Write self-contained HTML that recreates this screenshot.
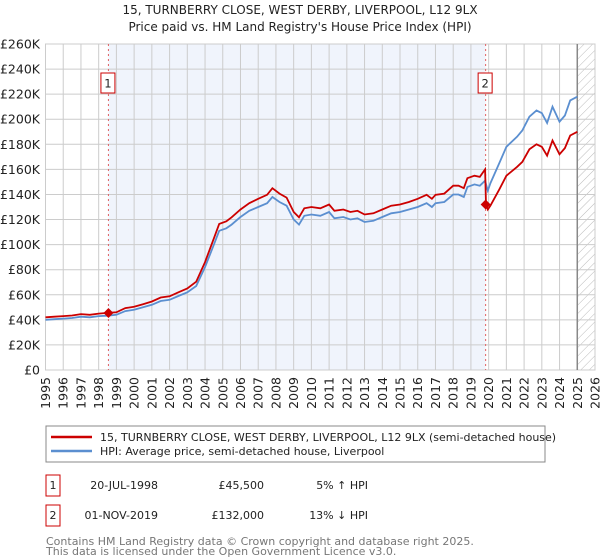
<!DOCTYPE html>
<html><head><meta charset="utf-8"><style>
body{margin:0;background:#fff;font-family:"DejaVu Sans","Liberation Sans",sans-serif;}
svg{display:block}
</style></head><body>
<svg width="600" height="560" xmlns="http://www.w3.org/2000/svg" font-family="DejaVu Sans, Liberation Sans, sans-serif">
<defs><pattern id="hatch" width="6" height="6" patternUnits="userSpaceOnUse" patternTransform="rotate(45)"><line x1="0" y1="0" x2="0" y2="6" stroke="#bbb" stroke-width="1"/></pattern></defs>
<text x="300" y="14" text-anchor="middle" font-size="12" fill="#222">15, TURNBERRY CLOSE, WEST DERBY, LIVERPOOL, L12 9LX</text>
<text x="300" y="31" text-anchor="middle" font-size="12" fill="#222">Price paid vs. HM Land Registry's House Price Index (HPI)</text>
<g id="plot"></g>
<rect x="46" y="426" width="499" height="36" fill="#fff" stroke="#888"/>
<line x1="51" y1="437" x2="92" y2="437" stroke="#cc0000" stroke-width="2.5"/>
<text x="100" y="441" font-size="11" fill="#222">15, TURNBERRY CLOSE, WEST DERBY, LIVERPOOL, L12 9LX (semi-detached house)</text>
<line x1="51" y1="451" x2="92" y2="451" stroke="#5b8fd0" stroke-width="2.5"/>
<text x="100" y="455" font-size="11" fill="#222">HPI: Average price, semi-detached house, Liverpool</text>
<g font-size="11" fill="#222">
<rect x="46" y="475" width="14" height="21" fill="#fff" stroke="#cc0000"/>
<text x="53" y="489" text-anchor="middle">1</text>
<text x="158" y="489" text-anchor="end">20-JUL-1998</text>
<text x="264" y="489" text-anchor="end">£45,500</text>
<text x="368" y="489" text-anchor="end">5% ↑ HPI</text></g>
<g font-size="11" fill="#222">
<rect x="46" y="505" width="14" height="21" fill="#fff" stroke="#cc0000"/>
<text x="53" y="519" text-anchor="middle">2</text>
<text x="158" y="519" text-anchor="end">01-NOV-2019</text>
<text x="264" y="519" text-anchor="end">£132,000</text>
<text x="368" y="519" text-anchor="end">13% ↓ HPI</text></g>
<text x="46" y="545" font-size="11" fill="#777">Contains HM Land Registry data © Crown copyright and database right 2025.</text>
<text x="46" y="555" font-size="11" fill="#777">This data is licensed under the Open Government Licence v3.0.</text>
</svg>
<script>
const hpiYears=[1995,1995.5,1996,1996.5,1997,1997.5,1998,1998.5,1999,1999.5,2000,2000.5,2001,2001.5,2002,2002.5,2003,2003.5,2004,2004.5,2004.8,2005.2,2005.5,2006,2006.5,2007,2007.5,2007.8,2008.2,2008.6,2009,2009.3,2009.6,2010,2010.5,2011,2011.3,2011.8,2012.2,2012.6,2013,2013.5,2014,2014.5,2015,2015.5,2016,2016.5,2016.8,2017,2017.5,2018,2018.3,2018.6,2018.8,2019.2,2019.5,2019.8,2019.95,2020.1,2020.6,2021,2021.6,2021.9,2022.3,2022.7,2023,2023.3,2023.6,2024,2024.3,2024.6,2025];
const hpiValues=[40,40.5,41,41.5,42.5,42,43,43.3,44,47,48,50,52,55,56,59,62,67,82,100,111,113,116,122,127,130,133,138,134,131,120,116,123,124,123,126,121,122,120,121,118,119,122,125,126,128,130,133,130,133,134,140,140,138,146,148,147,151,143,149,165,178,186,191,202,207,205,197,210,198,203,215,218];
const propYears=[1995,1995.5,1996,1996.5,1997,1997.5,1998,1998.5,1999,1999.5,2000,2000.5,2001,2001.5,2002,2002.5,2003,2003.5,2004,2004.5,2004.8,2005.2,2005.5,2006,2006.5,2007,2007.5,2007.8,2008.2,2008.6,2009,2009.3,2009.6,2010,2010.5,2011,2011.3,2011.8,2012.2,2012.6,2013,2013.5,2014,2014.5,2015,2015.5,2016,2016.5,2016.8,2017,2017.5,2018,2018.3,2018.6,2018.8,2019.2,2019.5,2019.8,2019.85,2019.95,2020.1,2020.6,2021,2021.6,2021.9,2022.3,2022.7,2023,2023.3,2023.6,2024,2024.3,2024.6,2025];
const propValues=[42,42.5,43,43.5,44.6,44,45,45.5,46,49.4,50.4,52.5,54.6,57.8,58.8,62,65,70.4,86,105,116.5,118.6,121.8,128,133,136.5,139.7,145,140.7,137.5,126,121.8,129,130,129,132,127,128,126,127,124,125,128,131,132,134,136.5,139.7,136.5,139.7,140.7,147,147,145,153,155,154,160,132,128,131,144,155,162,166,176,180,178,171,183,172,177,187,190];
const saleYears=[1998.55,2019.83];
const salePrices=[45.5,132];
const yTicks=[0,20,40,60,80,100,120,140,160,180,200,220,240,260];
const xTicks=[1995,1996,1997,1998,1999,2000,2001,2002,2003,2004,2005,2006,2007,2008,2009,2010,2011,2012,2013,2014,2015,2016,2017,2018,2019,2020,2021,2022,2023,2024,2025,2026];
const X0=45.5,X1=595,Y0=370,Y1=44;
const xs=y=>X0+(y-1995)*(X1-X0)/31;
const ys=v=>Y0-v*(Y0-Y1)/260;
const NS="http://www.w3.org/2000/svg";
const g=document.getElementById('plot');
function mk(tag,attrs){const e=document.createElementNS(NS,tag);for(const k in attrs)e.setAttribute(k,attrs[k]);g.appendChild(e);return e;}
let e;
e=mk('rect',{x:xs(saleYears[0]),y:Y1,width:xs(saleYears[1])-xs(saleYears[0]),height:Y0-Y1,fill:'#f0f4fc'});


e=mk('rect',{x:xs(2025),y:Y1,width:X1-xs(2025),height:Y0-Y1,fill:'url(#hatch)'});


yTicks.forEach(t=>{
 e=mk('line',{x1:X0,x2:X1,y1:ys(t),y2:ys(t),stroke:'#ccc','stroke-width':1});
 
 
 e=mk('text',{x:40,y:ys(t)+4.5,'text-anchor':'end','font-size':12.5,fill:'#222'});
 e.textContent='£'+(t===0?'0':t+'K');
 
 
});
xTicks.forEach(t=>{
 e=mk('line',{x1:xs(t),x2:xs(t),y1:Y1,y2:Y0,stroke:'#ccc','stroke-width':1});
 
 
 e=mk('text',{x:0,y:0,'text-anchor':'end','font-size':12.5,fill:'#222',transform:`translate(${xs(t)+4.5},377) rotate(-90)`});
 e.textContent=t;
 
 
});
e=mk('rect',{x:X0,y:Y1,width:X1-X0,height:Y0-Y1,fill:'none',stroke:'#ccc'});


e=mk('line',{x1:xs(2025),x2:xs(2025),y1:Y1,y2:Y0,stroke:'#888','stroke-width':1.5});


saleYears.forEach((s,i)=>{
 e=mk('line',{x1:xs(s),x2:xs(s),y1:Y1,y2:Y0,stroke:'#e06060','stroke-width':1,'stroke-dasharray':'2,3'});
 
 
});
e=mk('path',{d:hpiYears.map((y,i)=>(i?'L':'M')+xs(y).toFixed(1)+','+ys(hpiValues[i]).toFixed(1)).join(''),fill:'none',stroke:'#5b8fd0','stroke-width':1.8});


e=mk('path',{d:propYears.map((y,i)=>(i?'L':'M')+xs(y).toFixed(1)+','+ys(propValues[i]).toFixed(1)).join(''),fill:'none',stroke:'#cc0000','stroke-width':1.8});


saleYears.forEach((s,i)=>{
 const cx=xs(s),cy=ys(salePrices[i]);
 e=mk('path',{d:`M${cx},${cy-5}L${cx+5},${cy}L${cx},${cy+5}L${cx-5},${cy}Z`,fill:'#cc0000'});
 
 
 e=mk('rect',{x:cx-7.5,y:73,width:14,height:20,fill:'#fff',stroke:'#cc0000'});
 
 
 e=mk('text',{x:cx-0.5,y:87.5,'text-anchor':'middle','font-size':11.5,fill:'#222'});
 e.textContent=String(i+1);
 
 
});
</script>
</body></html>
